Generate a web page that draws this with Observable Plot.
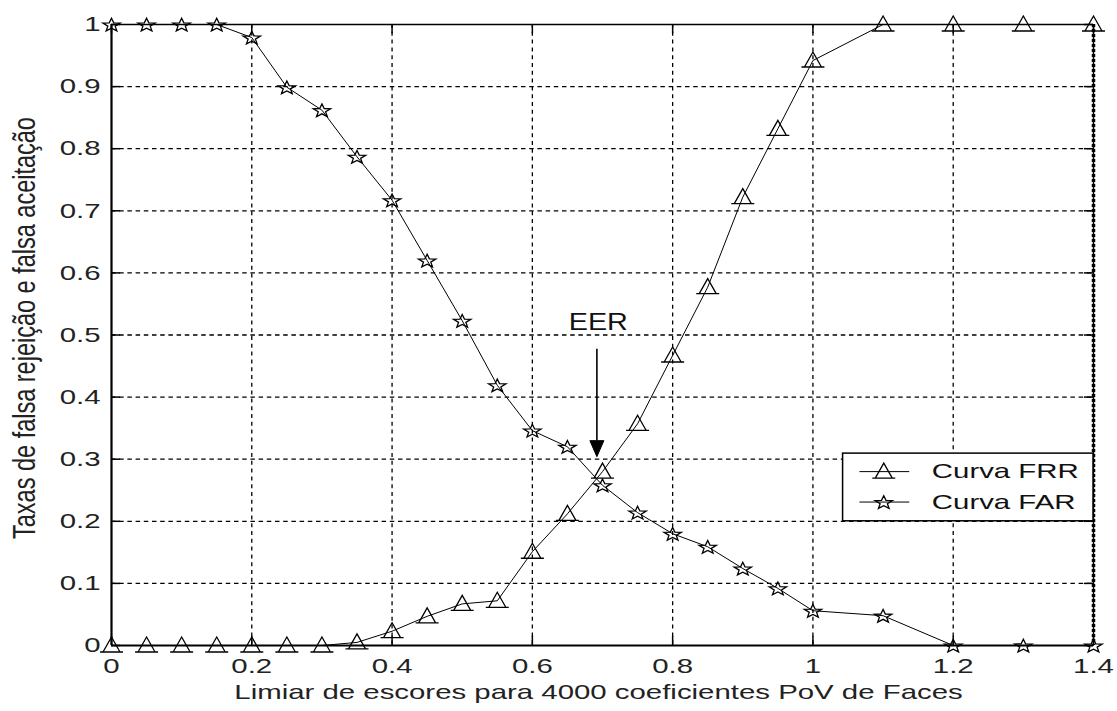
<!DOCTYPE html>
<html>
<head>
<meta charset="utf-8">
<script src="https://cdn.jsdelivr.net/npm/d3@7"></script>
<script src="https://cdn.jsdelivr.net/npm/@observablehq/plot@0.6"></script>
<style>
  html, body { margin: 0; padding: 0; background: #fff; }
  #chart svg { display: block; }
</style>
</head>
<body>
<div id="chart"></div>
<script>
// ---- data ----
const thresholds = [0, 0.05, 0.1, 0.15, 0.2, 0.25, 0.3, 0.35, 0.4, 0.45, 0.5, 0.55, 0.6, 0.65, 0.7, 0.75, 0.8, 0.85, 0.9, 0.95, 1.0, 1.1, 1.2, 1.3, 1.4];
const frrValues  = [0, 0, 0, 0, 0, 0, 0, 0.005, 0.023, 0.047, 0.067, 0.072, 0.151, 0.212, 0.28, 0.357, 0.467, 0.577, 0.722, 0.832, 0.942, 1, 1, 1, 1];
const farValues  = [1, 1, 1, 1, 0.979, 0.899, 0.862, 0.787, 0.717, 0.62, 0.523, 0.419, 0.346, 0.32, 0.258, 0.214, 0.18, 0.159, 0.124, 0.092, 0.056, 0.048, 0, 0, 0];
const seriesNames = ["Curva FRR", "Curva FAR"];
const xTicks = [0, 0.2, 0.4, 0.6, 0.8, 1.0, 1.2, 1.4];
const xTickLabels = ["0", "0.2", "0.4", "0.6", "0.8", "1", "1.2", "1.4"];
const yTicks = [0, 0.1, 0.2, 0.3, 0.4, 0.5, 0.6, 0.7, 0.8, 0.9, 1.0];
const yTickLabels = ["0", "0.1", "0.2", "0.3", "0.4", "0.5", "0.6", "0.7", "0.8", "0.9", "1"];
const xLabel = "Limiar de escores para 4000 coeficientes PoV de Faces";
const yLabel = "Taxas de falsa rejeição e falsa aceitação";
const eerLabel = "EER";

// ---- tables built from the arrays ----
const rows = thresholds.map((t, i) => ({t, frr: frrValues[i], far: farValues[i]}));

// ---- marker shapes (MATLAB-like, horizontally stretched) ----
const triSym = {
  draw(ctx) {
    ctx.moveTo(0, -8.5);
    ctx.lineTo(-8.5, 6.5);
    ctx.lineTo(8.5, 6.5);
    ctx.closePath();
    ctx.moveTo(-11.5, 6.5);
    ctx.lineTo(11.5, 6.5);
  }
};
const starSym = {
  draw(ctx) {
    const R = 7, r = R * 0.42, sx = 1.3, oy = 0.7;
    for (let k = 0; k < 10; k++) {
      const a = -Math.PI / 2 + k * Math.PI / 5;
      const rad = k % 2 ? r : R;
      const x = Math.cos(a) * rad * sx, y = Math.sin(a) * rad + oy;
      if (k === 0) ctx.moveTo(x, y); else ctx.lineTo(x, y);
    }
    ctx.closePath();
  }
};
const headSym = {
  draw(ctx) {
    ctx.moveTo(-7, -8);
    ctx.lineTo(7, -8);
    ctx.lineTo(0, 8);
    ctx.closePath();
  }
};

const legendRows = [
  {name: seriesNames[0], y: 0.280, sym: "frr"},
  {name: seriesNames[1], y: 0.231, sym: "far"}
];

const black = "#000";
const font = "'Liberation Sans', Arial, sans-serif";

const plot = Plot.plot({
  width: 1117,
  height: 711,
  marginLeft: 111,
  marginRight: 24,
  marginTop: 24,
  marginBottom: 66,
  x: {domain: [0, 1.4]},
  y: {domain: [0, 1]},
  style: {fontFamily: font, background: "#fff", color: "#000"},
  marks: [
    // dashed grid
    Plot.ruleX(xTicks.filter(d => d > 0 && d < 1.4), {stroke: black, strokeWidth: 1.3, strokeDasharray: "4,3.8"}),
    Plot.ruleY(yTicks.filter(d => d > 0 && d < 1), {stroke: black, strokeWidth: 1.3, strokeDasharray: "4.5,3.7"}),
    // inward tick marks on all four sides
    Plot.ruleX(xTicks, {y1: 0, y2: 0.015, stroke: black, strokeWidth: 1.5}),
    Plot.ruleX(xTicks, {y1: 1, y2: 0.985, stroke: black, strokeWidth: 1.5}),
    Plot.ruleY(yTicks, {x1: 0, x2: 0.013, stroke: black, strokeWidth: 1.5}),
    Plot.ruleY(yTicks, {x1: 1.4, x2: 1.387, stroke: black, strokeWidth: 1.5}),
    // box
    Plot.ruleY([1], {stroke: black, strokeWidth: 1.3}),
    Plot.ruleY([0], {stroke: black, strokeWidth: 2}),
    Plot.ruleX([0], {stroke: black, strokeWidth: 2.2}),
    Plot.ruleX([1.4], {stroke: black, strokeWidth: 1.5}),
    Plot.ruleX([1.4], {stroke: black, strokeWidth: 3.5, strokeDasharray: "3,2"}),
    // curves
    Plot.line(rows, {x: "t", y: "frr", stroke: black, strokeWidth: 1}),
    Plot.line(rows, {x: "t", y: "far", stroke: black, strokeWidth: 1}),
    Plot.dot(rows, {x: "t", y: "frr", symbol: triSym, r: 5, fill: "none", stroke: black, strokeWidth: 1.3}),
    Plot.dot(rows, {x: "t", y: "far", symbol: starSym, r: 5, fill: "none", stroke: black, strokeWidth: 1.3}),
    // EER annotation
    Plot.text([eerLabel], {x: 0.694, y: 0.52, fontSize: 23, fill: "#111"}),
    Plot.link([{x: 0.692, y1: 0.478, y2: 0.33}], {x1: "x", x2: "x", y1: "y1", y2: "y2", stroke: black, strokeWidth: 1.6}),
    Plot.dot([{x: 0.692, y: 0.317}], {x: "x", y: "y", symbol: headSym, r: 5, fill: black, stroke: black, strokeWidth: 1}),
    // legend
    Plot.rect([{x1: 1.043, x2: 1.4, y1: 0.2, y2: 0.309}], {x1: "x1", x2: "x2", y1: "y1", y2: "y2", fill: "#fff", stroke: black, strokeWidth: 1.5}),
    Plot.ruleY(legendRows, {y: "y", x1: 1.067, x2: 1.138, stroke: black, strokeWidth: 1}),
    Plot.dot(legendRows.filter(d => d.sym === "frr"), {x: 1.101, y: "y", symbol: triSym, r: 5, fill: "none", stroke: black, strokeWidth: 1.3}),
    Plot.dot(legendRows.filter(d => d.sym === "far"), {x: 1.101, y: "y", symbol: starSym, r: 5, fill: "none", stroke: black, strokeWidth: 1.3}),
    Plot.text(legendRows, {x: 1.1695, y: "y", text: "name", textAnchor: "start", fontSize: 21, fill: "#111"}),
    // axes
    Plot.axisX(xTicks, {tickSize: 0, tickPadding: 13, fontSize: 21, tickFormat: (d, i) => xTickLabels[i], label: null, fill: "#222"}),
    Plot.axisY(yTicks, {tickSize: 0, tickPadding: 11, fontSize: 21, tickFormat: (d, i) => yTickLabels[i], label: null, fill: "#222"}),
    // axis titles
    Plot.text([xLabel], {frameAnchor: "bottom", textAnchor: "middle", dx: -4, dy: 53, fontSize: 21, fill: "#222"}),
    Plot.text([yLabel], {frameAnchor: "left", textAnchor: "middle", rotate: -90, dx: -86, dy: -7, fontSize: 23.5, fill: "#222"})
  ]
});

document.getElementById("chart").appendChild(plot);

// The reference's text is horizontally stretched; mimic with a local scale at each anchor.
function stretch(nodes, sx, sy) {
  nodes.forEach(n => {
    let t = n.getAttribute("transform");
    if (!t) {
      const x = +n.getAttribute("x") || 0, y = +n.getAttribute("y") || 0;
      n.removeAttribute("x"); n.removeAttribute("y");
      t = `translate(${x},${y})`;
    }
    n.setAttribute("transform", t + ` scale(${sx},${sy})`);
  });
}
const allText = Array.from(plot.querySelectorAll("text"));
const isY = n => n.textContent === yLabel;
const isEER = n => n.textContent === eerLabel;
stretch(allText.filter(isY), 1, 1.3);
stretch(allText.filter(isEER), 1.25, 1);
stretch(allText.filter(n => !isY(n) && !isEER(n)), 1.4, 1);
</script>
</body>
</html>
